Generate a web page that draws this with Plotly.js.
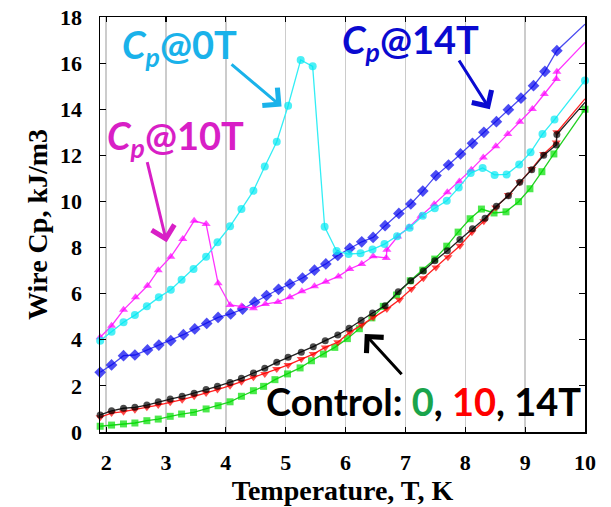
<!DOCTYPE html>
<html>
<head>
<meta charset="utf-8">
<script src="https://cdn.plot.ly/plotly-3.0.1.min.js"></script>
<style>html,body{margin:0;padding:0;background:#fff;}#chart{width:611px;height:507px;}</style>
</head>
<body>
<div id="chart"></div>
<script>
// ---- Data ----
const xTicks = [2, 3, 4, 5, 6, 7, 8, 9, 10];
const yTicks = [0, 2, 4, 6, 8, 10, 12, 14, 16, 18];

const cp0T_x = [1.90,2.09,2.29,2.48,2.68,2.88,3.08,3.26,3.46,3.67,3.86,4.07,4.26,4.46,4.65,4.85,5.04,5.25,5.45,5.65,5.85,6.05,6.25,6.45,6.65,6.86,7.07,7.29,7.49,7.69,7.89,8.09,8.29,8.49,8.69,8.90,9.09,9.29,9.49,10.0];
const cp0T_y = [3.96,4.35,4.76,5.07,5.45,5.84,6.17,6.60,7.07,7.60,8.23,8.92,9.67,10.46,11.52,12.59,14.15,16.14,15.86,8.90,7.85,7.72,7.75,7.92,8.15,8.49,8.86,9.38,9.70,10.03,10.60,11.23,11.45,11.15,11.17,11.60,12.13,12.92,13.55,15.25];

const cp10T_x = [1.90,2.09,2.29,2.49,2.69,2.87,3.08,3.28,3.47,3.67,3.87,4.07,4.26,4.46,4.66,4.87,5.07,5.27,5.48,5.67,5.88,6.07,6.27,6.46,6.68,6.69,6.87,7.06,7.26,7.48,7.70,7.90,8.10,8.30,8.51,8.71,8.91,9.12,9.32,9.52,9.53,10.0];
const cp10T_y = [4.11,4.61,5.30,5.84,6.34,7.02,7.60,8.37,9.16,9.02,6.45,5.51,5.45,5.37,5.55,5.64,5.85,6.10,6.32,6.52,6.75,7.07,7.29,7.62,7.55,7.90,8.48,8.88,9.38,9.88,10.40,10.87,11.38,11.91,12.39,12.92,13.46,14.01,14.66,15.31,15.62,16.90];

const cp14T_x = [1.90,2.09,2.29,2.48,2.69,2.88,3.08,3.29,3.48,3.68,3.87,4.08,4.28,4.48,4.68,4.88,5.07,5.28,5.48,5.67,5.87,6.07,6.27,6.46,6.66,6.89,7.09,7.29,7.51,7.72,7.92,8.12,8.31,8.52,8.72,8.93,9.14,9.33,9.53,10.0];
const cp14T_y = [2.59,2.91,3.31,3.34,3.56,3.77,3.96,4.22,4.47,4.71,4.97,5.12,5.33,5.63,5.92,6.19,6.42,6.68,7.02,7.29,7.66,7.97,8.25,8.44,8.95,9.48,9.89,10.45,11.12,11.58,12.06,12.52,13.00,13.46,13.98,14.48,15.02,15.64,16.54,17.69];

const ctl14T_x = [1.90,2.09,2.29,2.48,2.68,2.87,3.07,3.27,3.47,3.67,3.86,4.07,4.26,4.46,4.65,4.85,5.04,5.26,5.46,5.66,5.87,6.06,6.26,6.45,6.66,6.88,7.09,7.30,7.49,7.70,7.91,8.12,8.33,8.52,8.72,8.91,9.11,9.31,9.52,9.53,10.0];
const ctl14T_y = [0.74,0.92,1.03,1.07,1.17,1.31,1.43,1.55,1.68,1.84,1.98,2.15,2.33,2.56,2.76,3.02,3.24,3.46,3.70,3.96,4.21,4.50,4.85,5.16,5.48,6.08,6.56,6.98,7.43,7.86,8.35,8.82,9.27,9.79,10.25,10.83,11.38,12.00,12.45,12.90,14.30];

const ctl10T_x = [1.90,2.09,2.29,2.48,2.68,2.87,3.07,3.27,3.47,3.67,3.86,4.07,4.26,4.46,4.65,4.85,5.04,5.26,5.46,5.66,5.87,6.07,6.27,6.46,6.69,6.90,7.10,7.30,7.51,7.71,7.91,8.11,8.31,8.51,8.72,8.91,9.11,9.31,9.52,9.53,10.0];
const ctl10T_y = [0.64,0.82,0.88,0.97,1.07,1.17,1.29,1.40,1.55,1.69,1.84,2.01,2.18,2.37,2.52,2.73,2.91,3.17,3.38,3.67,3.89,4.32,4.64,4.98,5.33,5.74,6.20,6.67,7.14,7.58,8.08,8.66,9.14,9.74,10.28,10.83,11.41,12.06,12.56,13.00,14.45];

const ctl0T_x = [1.90,2.09,2.29,2.48,2.68,2.87,3.07,3.26,3.46,3.67,3.87,4.07,4.26,4.46,4.63,4.82,5.03,5.24,5.43,5.63,5.82,6.03,6.23,6.44,6.63,6.85,7.08,7.29,7.49,7.69,7.88,8.08,8.27,8.48,8.68,8.89,9.08,9.28,9.48,10.0];
const ctl0T_y = [0.25,0.30,0.35,0.39,0.49,0.56,0.68,0.78,0.85,1.00,1.14,1.31,1.55,1.79,1.98,2.27,2.52,2.78,3.09,3.38,3.67,4.05,4.48,4.95,5.45,5.94,6.56,7.02,7.50,8.06,8.67,9.25,9.67,9.50,9.55,9.99,10.55,11.29,12.06,14.00];

// ---- Styling helpers ----
function sizes(n, s, lastVisible) {
  const a = new Array(n).fill(s);
  if (!lastVisible) a[n - 1] = 0;
  return a;
}
function series(x, y, name, lineColor, markerColor, symbol, msize, lastVisible) {
  return {
    x: x, y: y, name: name, type: 'scatter', mode: 'lines+markers',
    line: {color: lineColor, width: 1.3},
    marker: {color: markerColor, symbol: symbol, size: sizes(x.length, msize, lastVisible), line: {width: 0}},
    showlegend: false, cliponaxis: false
  };
}

const traces = [
  series(cp14T_x, cp14T_y, 'Cp@14T', '#4a4af0', '#0000ee', 'diamond', 9, false),
  series(cp10T_x, cp10T_y, 'Cp@10T', '#ff33ff', '#ff00ff', 'triangle-up', 8, false),
  series(cp0T_x, cp0T_y, 'Cp@0T', '#33eef5', '#00e8f2', 'circle', 8, true),
  series(ctl0T_x, ctl0T_y, 'Control 0T', '#22d022', '#00e000', 'square', 7, true),
  series(ctl10T_x, ctl10T_y, 'Control 10T', '#ff2020', '#ff0000', 'triangle-down', 8, false),
  series(ctl14T_x, ctl14T_y, 'Control 14T', '#222222', '#000000', 'circle', 7, false)
];

const serif = 'Liberation Serif, Times New Roman, serif';
const sans = 'Lato, Carlito, Open Sans, sans-serif';

function label(text, x, y, color) {
  return {text: text, x: x, y: y, xref: 'x', yref: 'y', showarrow: false,
    xanchor: 'center', yanchor: 'middle',
    font: {family: sans, size: 38, color: color, weight: 'bold'}};
}
function arrow(hx, hy, tx, ty, color) {
  return {text: '', x: hx, y: hy, xref: 'x', yref: 'y', ax: tx, ay: ty, axref: 'x', ayref: 'y',
    font: {size: 1},
    showarrow: true, arrowhead: 4, arrowsize: 1.5, arrowwidth: 3, arrowcolor: color, standoff: 0, startstandoff: 0};
}

const annotations = [
  label('<i>C<sub>p</sub></i>@0T', 3.23, 16.7, '#1ab2ea'),
  label('<i>C<sub>p</sub></i>@10T', 3.15, 12.75, '#d81fc6'),
  label('<i>C<sub>p</sub></i>@14T', 7.08, 16.9, '#0a0ad0'),
  label('Control: <span style="color:#1aa44c">0</span>, <span style="color:#ff0000">10</span>, 14T', 7.31, 1.34, '#000000'),
  arrow(4.93, 14.12, 4.07, 16.0, '#1ab2ea'),
  arrow(3.01, 8.23, 2.68, 11.77, '#d81fc6'),
  arrow(8.41, 14.0, 7.88, 16.18, '#0a0ad0'),
  arrow(6.32, 4.25, 6.96, 2.44, '#000000')
];

const layout = {
  width: 611, height: 507,
  margin: {l: 100, r: 26, t: 17, b: 75},
  paper_bgcolor: '#ffffff', plot_bgcolor: '#ffffff',
  showlegend: false,
  xaxis: {
    range: [1.897, 10.0], tickvals: xTicks, ticktext: xTicks.map(String),
    ticks: 'inside', ticklen: 5, tickwidth: 1.2, tickcolor: '#000',
    mirror: 'ticks', showline: true, linecolor: '#000', linewidth: 1.5,
    showgrid: true, gridcolor: '#cccccc', gridwidth: 1.5, zeroline: false,
    tickfont: {family: serif, size: 22, color: '#000', weight: 'bold'},
    ticklabelstandoff: 10,
    title: {text: 'Temperature, T, K', font: {family: serif, size: 28, color: '#000', weight: 'bold'}, standoff: 0}
  },
  yaxis: {
    range: [0, 18], tickvals: yTicks, ticktext: yTicks.map(String),
    ticks: 'inside', ticklen: 6, tickwidth: 1.2, tickcolor: '#000',
    mirror: 'ticks', showline: true, linecolor: '#000', linewidth: 1.5,
    showgrid: false, zeroline: false,
    tickfont: {family: serif, size: 22, color: '#000', weight: 'bold'},
    ticklabelstandoff: 12,
    title: {text: 'Wire Cp, kJ/m3', font: {family: serif, size: 28, color: '#000', weight: 'bold'}, standoff: 4}
  },
  annotations: annotations
};

Plotly.newPlot('chart', traces, layout, {staticPlot: true, displayModeBar: false});
</script>
</body>
</html>
